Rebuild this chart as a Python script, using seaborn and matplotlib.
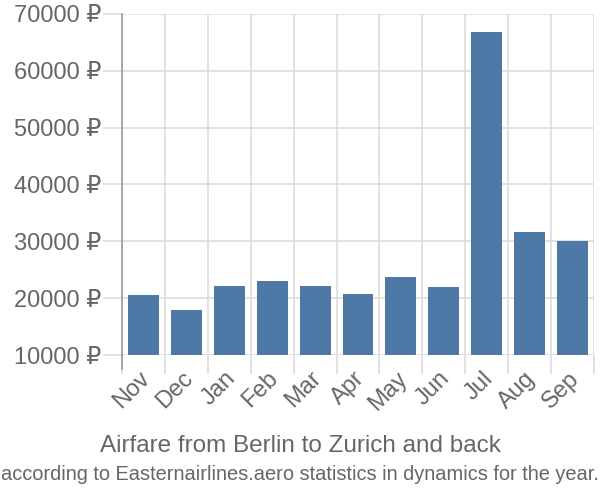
import matplotlib
matplotlib.use("Agg")
import matplotlib.pyplot as plt
import matplotlib.transforms as mtransforms
import seaborn as sns
import pandas as pd
import numpy as np

months = ["Nov", "Dec", "Jan", "Feb", "Mar", "Apr", "May", "Jun", "Jul", "Aug", "Sep"]
prices = [20600, 17900, 22100, 23000, 22100, 20700, 23700, 22000, 66800, 31700, 30000]
yticks = [10000, 20000, 30000, 40000, 50000, 60000, 70000]
ytick_labels = [f"{v} ₽" for v in yticks]
title = "Airfare from Berlin to Zurich and back"
subtitle = "according to Easternairlines.aero statistics in dynamics for the year."

sns.set_theme(style="white")
plt.rcParams['font.family'] = ['Liberation Sans', 'DejaVu Sans']

df = pd.DataFrame({"month": months, "price": prices})

fig = plt.figure(figsize=(6, 5), dpi=100)
ax = fig.add_axes([122/600, 1 - 355/500, (594-122)/600, (355-14)/500])

sns.barplot(data=df, x="month", y="price", color="#4e79a7", saturation=1,
            width=0.72, ax=ax, zorder=3, linewidth=0)

ax.set_xlim(-0.5, len(months) - 0.5)
ax.set_ylim(10000, 70000)
ax.set_yticks(yticks)
ax.set_yticklabels(ytick_labels)
ax.set_xlabel("")
ax.set_ylabel("")

ax.set_xticks(np.arange(-0.5, len(months)), minor=True)
ax.grid(True, which="minor", axis="x", color="#dddddd", linewidth=1.2, zorder=0)
ax.grid(True, which="major", axis="y", color="#dddddd", linewidth=1.2, zorder=0)
ax.grid(False, which="major", axis="x")

ax.tick_params(axis="y", which="major", length=14, color="#dddddd", width=1.2,
               labelsize=17, labelcolor="#666666", pad=1, left=True)
ax.tick_params(axis="x", which="minor", length=14, color="#dddddd", width=1.2, bottom=True)
ax.tick_params(axis="x", which="major", length=0, labelsize=17, labelcolor="#666666", pad=9)
offset = mtransforms.ScaledTranslation(-5/100, 0, fig.dpi_scale_trans)
for lbl in ax.get_xticklabels():
    lbl.set_rotation(45)
    lbl.set_ha("right")
    lbl.set_rotation_mode("anchor")
    lbl.set_transform(lbl.get_transform() + offset)

for s in ["top", "right", "bottom"]:
    ax.spines[s].set_visible(False)
ax.spines["left"].set_color("#999999")
ax.spines["left"].set_linewidth(1.2)
ax.spines["left"].set_bounds(10000, 70000)
ax.plot([0, 0], [0, -14/341], transform=ax.transAxes, color="#999999", lw=1.2, clip_on=False)

fig.text(0.5, 1 - 446/500, title, ha="center", va="center", fontsize=17.5, color="#666666")
fig.text(0.5, 1 - 475/500, subtitle, ha="center", va="center", fontsize=14.4, color="#666666")

fig.savefig("out.png", dpi=100)
